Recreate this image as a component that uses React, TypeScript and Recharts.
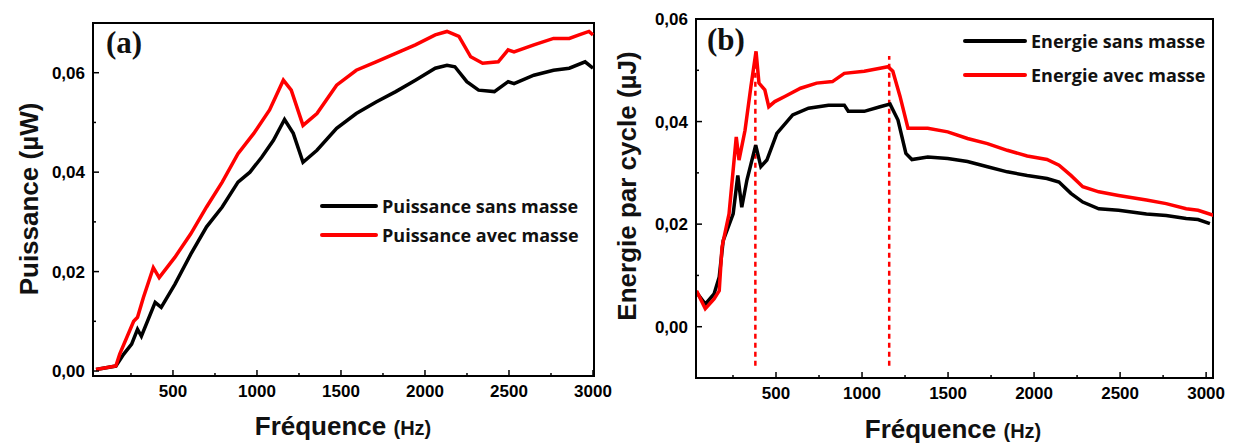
import React from 'react';
import { LineChart, Line, XAxis, YAxis, ReferenceArea, ReferenceLine } from 'recharts';

// (a) Puissance vs fréquence
const powerFreqSans = [42, 160, 207, 254, 289, 312, 394, 430, 512, 606, 700, 793, 887, 958, 1028, 1098, 1164, 1216, 1274, 1357, 1474, 1591, 1709, 1826, 1943, 2061, 2131, 2178, 2249, 2319, 2413, 2495, 2530, 2648, 2765, 2859, 2953, 3000];
const powerSans = [0.0003, 0.001, 0.0034, 0.0054, 0.0084, 0.007, 0.0138, 0.0128, 0.0175, 0.0235, 0.029, 0.033, 0.038, 0.04, 0.043, 0.0464, 0.0506, 0.0478, 0.042, 0.0444, 0.0488, 0.0518, 0.0541, 0.0562, 0.0585, 0.0609, 0.0615, 0.0612, 0.0582, 0.0565, 0.0562, 0.0582, 0.0578, 0.0595, 0.0605, 0.0609, 0.0622, 0.0609];
const powerFreqAvec = [42, 160, 183, 266, 289, 324, 383, 418, 512, 606, 700, 793, 887, 981, 1075, 1157, 1204, 1274, 1357, 1474, 1591, 1709, 1826, 1943, 2061, 2131, 2202, 2272, 2343, 2436, 2495, 2530, 2648, 2765, 2859, 2917, 2976, 3000];
const powerAvec = [0.0003, 0.001, 0.0034, 0.01, 0.0108, 0.0148, 0.0208, 0.0188, 0.0229, 0.0276, 0.033, 0.038, 0.0437, 0.0478, 0.0525, 0.0585, 0.0565, 0.0494, 0.0518, 0.0575, 0.0605, 0.0622, 0.0639, 0.0656, 0.0676, 0.0683, 0.0673, 0.0632, 0.0619, 0.0622, 0.0646, 0.0642, 0.0656, 0.0669, 0.0669, 0.0676, 0.0683, 0.0676];

// (b) Energie par cycle vs fréquence
const energyFreqSans = [38, 89, 140, 170, 193, 251, 278, 301, 331, 382, 412, 447, 505, 597, 689, 805, 897, 920, 1013, 1105, 1163, 1209, 1255, 1290, 1382, 1498, 1613, 1729, 1844, 1960, 2075, 2145, 2214, 2283, 2376, 2491, 2653, 2768, 2884, 2953, 3022];
const energySans = [0.0067, 0.0044, 0.0064, 0.0097, 0.0168, 0.022, 0.0295, 0.0233, 0.0286, 0.0354, 0.0312, 0.0325, 0.0377, 0.0413, 0.0426, 0.0432, 0.0432, 0.042, 0.042, 0.0429, 0.0434, 0.0403, 0.0338, 0.0326, 0.0331, 0.0328, 0.0322, 0.0312, 0.0302, 0.0295, 0.0289, 0.0282, 0.026, 0.0243, 0.023, 0.0227, 0.022, 0.0217, 0.0211, 0.0209, 0.0201];
const energyFreqAvec = [38, 89, 140, 170, 186, 227, 269, 285, 320, 354, 384, 401, 435, 458, 493, 551, 643, 736, 828, 897, 1013, 1105, 1151, 1179, 1221, 1267, 1382, 1498, 1613, 1729, 1844, 1960, 2075, 2145, 2214, 2283, 2376, 2491, 2653, 2768, 2884, 2953, 3045];
const energyAvec = [0.007, 0.0035, 0.0054, 0.007, 0.0155, 0.022, 0.037, 0.0325, 0.0383, 0.0468, 0.0537, 0.0475, 0.0462, 0.0429, 0.0439, 0.0449, 0.0465, 0.0475, 0.0478, 0.0494, 0.0498, 0.0504, 0.0507, 0.0498, 0.0449, 0.0387, 0.0387, 0.038, 0.0367, 0.0357, 0.0344, 0.0333, 0.0326, 0.0315, 0.0295, 0.0273, 0.0263, 0.0256, 0.0247, 0.024, 0.023, 0.0227, 0.0217];

const freqTicks = [250, 500, 750, 1000, 1250, 1500, 1750, 2000, 2250, 2500, 2750, 3000];
const valueTicks = [0, 0.01, 0.02, 0.03, 0.04, 0.05, 0.06];
const peakFreqs = [380, 1158];
const peakTops = [0.0534, 0.0528];

const powerNames = ['Puissance sans masse', 'Puissance avec masse'];
const energyNames = ['Energie sans masse', 'Energie avec masse'];
const colors = ['#000000', '#ff0000'];

const zip = (xs: number[], ys: number[]) => xs.map((f, i) => ({ f, v: ys[i] }));

const sans = 'Liberation Sans, Arial, sans-serif';

const XTick = (props: any) => {
  const { x, y, payload } = props;
  const major = payload.value % 500 === 0;
  return (
    <g>
      <line x1={x} x2={x} y1={y} y2={y - (major ? 6 : 3)} stroke="#000" strokeWidth={1.5} />
      {major && (
        <text x={x} y={y + 21} textAnchor="middle" fontSize={17} fontWeight="bold" fontFamily={sans} fill="#000">
          {payload.value}
        </text>
      )}
    </g>
  );
};

const YTick = (props: any) => {
  const { x, y, payload } = props;
  const major = Math.round(payload.value * 100) % 2 === 0;
  return (
    <g>
      <line x1={x} x2={x + (major ? 6 : 3)} y1={y} y2={y} stroke="#000" strokeWidth={1.5} />
      {major && (
        <text x={x - 8} y={y} dy="0.35em" textAnchor="end" fontSize={17} fontWeight="bold" fontFamily={sans} fill="#000">
          {payload.value.toFixed(2).replace('.', ',')}
        </text>
      )}
    </g>
  );
};

const Legend2 = ({ names, left, top, gap, lineW }: { names: string[]; left: number; top: number; gap: number; lineW: number }) => (
  <div style={{ position: 'absolute', left, top }}>
    {names.map((n, i) => (
      <div key={n} style={{ position: 'absolute', top: i * gap, left: 0, display: 'flex', alignItems: 'center', whiteSpace: 'nowrap', transform: 'translateY(-50%)' }}>
        <div style={{ width: lineW, height: 4, background: colors[i], borderRadius: 2, marginRight: 4 }} />
        <span style={{ fontFamily: 'Open Sans', fontWeight: 700, fontSize: 18, color: '#111' }}>{n}</span>
      </div>
    ))}
  </div>
);

const xTitle = (cx: number, y: number) => () => (
  <text x={cx} y={y} textAnchor="middle" fontFamily={sans} fontWeight="bold" fontSize={26} fill="#111">
    Fréquence <tspan fontSize={20}>(Hz)</tspan>
  </text>
);

const yTitle = (x: number, cy: number, label: string) => () => (
  <text transform={`translate(${x},${cy}) rotate(-90)`} textAnchor="middle" fontFamily={sans} fontWeight="bold" fontSize={26} fill="#111">
    {label}
  </text>
);

export default function App() {
  const powerA = [zip(powerFreqSans, powerSans), zip(powerFreqAvec, powerAvec)];
  const energyB = [zip(energyFreqSans, energySans), zip(energyFreqAvec, energyAvec)];
  const domA: [number, number] = [24, 3006];
  const domB: [number, number] = [35, 3040];
  return (
    <div style={{ position: 'fixed', left: 0, top: 0, width: 1233, height: 445, background: '#fff', overflow: 'hidden' }}>
      <div style={{ position: 'absolute', left: 0, top: 0 }}>
        <LineChart width={620} height={445} margin={{ top: 23, right: 26, bottom: 39, left: 33 }}>
          <XAxis
            dataKey="f"
            type="number"
            domain={domA}
            allowDataOverflow
            ticks={freqTicks}
            tick={<XTick />}
            tickLine={false}
            tickSize={0}
            tickMargin={0}
            height={30}
            axisLine={{ stroke: '#000', strokeWidth: 2 }}
            label={{ content: xTitle(343, 435) }}
          />
          <YAxis
            type="number"
            domain={[-0.001, 0.07]}
            allowDataOverflow
            ticks={valueTicks}
            tick={<YTick />}
            tickLine={false}
            tickSize={0}
            tickMargin={0}
            width={60}
            axisLine={{ stroke: '#000', strokeWidth: 2 }}
            label={{ content: yTitle(38, 199, 'Puissance (µW)') }}
          />
          <ReferenceArea x1={domA[0]} x2={domA[1]} y1={-0.001} y2={0.07} fill="none" stroke="#000" strokeWidth={2} fillOpacity={0} />
          {powerA.map((d, i) => (
            <Line key={i} data={d} dataKey="v" name={powerNames[i]} stroke={colors[i]} strokeWidth={3.5} dot={false} isAnimationActive={false} />
          ))}
        </LineChart>
      </div>
      <div style={{ position: 'absolute', left: 610, top: 0 }}>
        <LineChart width={623} height={445} margin={{ top: 19, right: 20, bottom: 37, left: 26 }}>
          <XAxis
            dataKey="f"
            type="number"
            domain={domB}
            allowDataOverflow
            ticks={freqTicks}
            tick={<XTick />}
            tickLine={false}
            tickSize={0}
            tickMargin={0}
            height={30}
            axisLine={{ stroke: '#000', strokeWidth: 2 }}
            label={{ content: xTitle(343, 438) }}
          />
          <YAxis
            type="number"
            domain={[-0.01, 0.06]}
            allowDataOverflow
            ticks={valueTicks}
            tick={<YTick />}
            tickLine={false}
            tickSize={0}
            tickMargin={0}
            width={60}
            axisLine={{ stroke: '#000', strokeWidth: 2 }}
            label={{ content: yTitle(26, 186, 'Energie par cycle (µJ)') }}
          />
          <ReferenceArea x1={domB[0]} x2={domB[1]} y1={-0.01} y2={0.06} fill="none" stroke="#000" strokeWidth={2} fillOpacity={0} />
          {peakFreqs.map((p, i) => (
            <ReferenceLine
              key={p}
              segment={[{ x: p, y: -0.0076 }, { x: p, y: peakTops[i] }]}
              stroke="#ff0000"
              strokeWidth={2.5}
              strokeDasharray="5 4"
            />
          ))}
          {energyB.map((d, i) => (
            <Line key={i} data={d} dataKey="v" name={energyNames[i]} stroke={colors[i]} strokeWidth={3.5} dot={false} isAnimationActive={false} />
          ))}
        </LineChart>
      </div>
      <div style={{ position: 'absolute', left: 106, top: 25, fontFamily: 'Liberation Serif, Times New Roman, serif', fontWeight: 700, fontSize: 31, color: '#111' }}>(a)</div>
      <div style={{ position: 'absolute', left: 707, top: 22, fontFamily: 'Liberation Serif, Times New Roman, serif', fontWeight: 700, fontSize: 31, color: '#111' }}>(b)</div>
      <Legend2 names={powerNames} left={320} top={206} gap={29} lineW={58} />
      <Legend2 names={energyNames} left={963} top={41} gap={34} lineW={64} />
    </div>
  );
}
